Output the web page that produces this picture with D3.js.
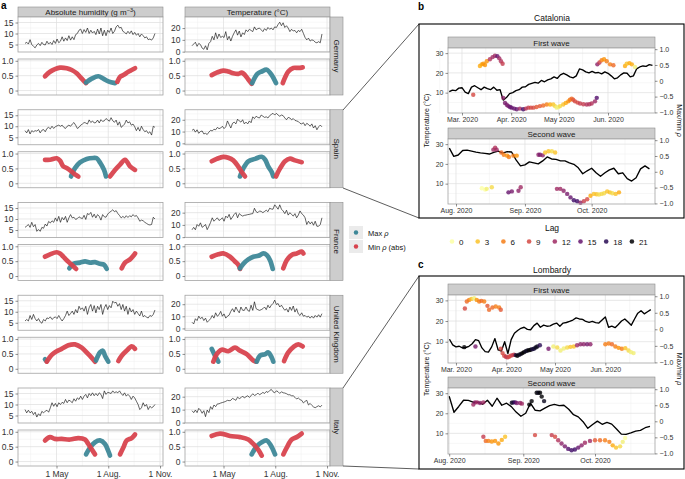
<!DOCTYPE html>
<html><head><meta charset="utf-8">
<script src="https://cdn.jsdelivr.net/npm/d3@7/dist/d3.min.js"></script>
<style>html,body{margin:0;padding:0;background:#fff;}svg{display:block;}</style>
</head><body>
<script>
// ================= DATA =================
const countries = ["Germany", "Spain", "France", "United Kingdom", "Italy"];
const seriesStartDay = 5;   // days after 1 Mar 2020 (6 Mar)
const seriesStepDays = 3;

const humGermany = [5.5,6.0,5.2,7.2,5.0,4.2,3.5,4.8, 5.5,4.5,6.0,5.0,4.8,6.5,5.2,6.0, 5.0,6.8,5.5,7.5,5.8,6.5,8.5,6.5, 8.0,6.8,9.0,7.0,8.5,7.2,9.5,10.0, 11.5,12.0,10.0,11.8,10.5,12.5,10.0,11.5, 10.2,11.0,9.5,12.0,9.8,12.5,9.0,11.5, 9.0,11.5,10.5,12.5,10.0,11.0,13.0,13.8, 12.5,12.8,11.0,10.5,9.8,11.0,10.0,11.2, 9.5,10.5,9.2,10.0,8.5,9.8,9.0,8.0, 8.5,7.2,7.5,7.0,8.0,10.0];
const humSpain = [8,7,8.5,6.5,8,7.5,8,7.8, 8.5,7,8.2,8.5,7.5,9,9.5,8.8, 10,9,9.8,10.2,10.5,10,10.5,9.5, 9,10,10.5,10,11,11.7,10.5,9, 9.5,10.5,11,11.7,11.5,11,12.9,11.7, 12.4,11.5,11.7,12.8,11.5,13,12.2,12.5, 13.5,12.9,12.3,13.9,12.5,11.8,12.8,10.5, 12,9.5,10.2,11,12.8,11.5,12,10.5, 11,9.8,8,9.5,7.8,10,8.5,7.5, 8,6.8,7.5,6,10,9.5];
const humFrance = [6.2,6.8,7.5,6.2,8.5,6.5,7.5,4.4, 5.2,4.4,6.2,5.8,7.7,6.8,8.9,8.2, 9.2,8.5,10.5,9,11.2,8.5,10.7,9.6, 11.2,8.5,10.5,12,10.5,10.8,9.8,10.2, 11,10.5,10.2,11.7,9.8,12.5,12,13, 10.8,12.2,10.5,12,11.2,9.5,12,11, 10.8,12.2,13,13.5,14.2,13.3,13.8,12.5, 11.6,10.5,11.2,10.5,11.5,10.7,11.5,11, 12,11.2,11.6,10.5,9,9.5,9.2,8.5, 8,7.5,7.3,7.5,10.8,10];
const humUK = [5.8,6.5,5.8,8.3,6.5,8.8,6.9,5.8, 6.9,5.4,4.8,6.5,5.8,7.2,6.9,7.7, 6.5,7.2,7.7,6.9,8.3,6.9,5.8,6.9, 8.3,10.3,8.3,9.2,10.3,8.8,11,9.5, 12.5,11,11.8,10.3,12.5,8.8,11.8,13.3, 10.3,12.8,9.5,12.5,11,13.3,8.8,11.8, 13.3,11,12.8,11.8,14.8,14,14.3,12.5, 13.7,11,13.3,10.3,12.5,8.8,11.8,9.9, 11,8.8,10.3,9.2,8.1,10.3,7.7,8.3, 7.5,7.2,8.3,7.9,8.8,10.8];
const humItaly = [7.7,6.2,7.4,6.2,6.9,5.4,6.5,4.3, 5.8,4.9,6.9,6.2,7,7.4,6.5,8.5, 10.8,9.2,10.5,9,10.8,10,11,10.5, 12.3,10.8,12,11.5,10.8,12.6,11.5,13, 12.3,13.8,12.3,13.8,14.6,13,15,14, 15.3,14,15,14,15.3,14.6,12.7,16.2, 14.6,15.5,15.3,15,16.2,15.3,15.8,15.3, 16.2,15,14.1,15.3,13.8,14.6,13.8,12.3, 13.8,13,11.5,10,7.7,8.5,10.8,9.2, 10,7.7,9.2,8.5,9,10];

const tempGermany = [5,6.5,8,4.5,7,6,3,2, 5,1.5,7,8.5,13,10,16,11, 15,12,13,12,17,10,13,9, 13,16,18.5,14,17.5,12.5,16,14.5, 18.5,17,19,18,17,21,18.5,19.5, 20,18.5,17,19.5,18,20.5,19,20, 18.5,21,20.5,23,25,22,24.5,20.5, 22,20,17,19,17.5,18,16,18, 17,19,15.5,12,10,11.5,9,10, 9.5,8,7.5,8.5,7.5,15];
const tempSpain = [11,12,9.5,11.5,8.5,10,10.5,8, 8.5,7.5,9.5,11,10.5,12,11.5,13.5, 12.5,13,14.5,12.5,14,19,16,13, 17,18,16.5,20.5,19,18,20,16.5, 18,16.5,19,17.5,22.5,21,23,22, 21.5,24,23,22,22.5,21.5,23.5,24.5, 25.5,24,25.5,24,23,24,23.5,21.5, 20,22,21.5,20,21,19.5,19,18.5, 17,16.5,17.5,15,17,16,14.5,16.5, 13,15,11.5,14,15.5,14];
const tempFrance = [6,8,6,10.3,8.9,11.7,8,9, 10.3,6.1,8.9,12,15.8,13,14.4,15.8, 13.6,14.5,15.8,13,17.2,15.8,18.6,14.4, 16.4,18.6,20,15.8,19.2,18,17.2,17.8, 18,18.4,18.6,19,19.2,23.6,20.8,20, 21.4,21,20,21,22,20.8,23.6,23, 22.8,26.4,24.7,22.8,26.4,22.8,21.4,19.2, 22,18,20,18.5,17.2,19.2,15.8,18, 21.4,19.2,18,15.8,10.3,13,10.8,12.5, 9.7,13,8.9,8.9,10.3,15.8];
const tempUK = [5.1,3.7,8,6.5,10.1,8,9.3,6.5, 8.5,5.1,6.5,8,10.7,8.5,12.9,10.1, 11.3,14.1,10.1,12,8.5,10.1,11,14.1, 16.3,13.5,17.7,14.9,12.9,17.7,15,14.9, 17.7,14.9,14.1,19.2,14.9,22,16.3,15.5, 14.9,15.5,16.3,17.7,15.5,19.2,16.9,19.2, 20.6,23.4,19.7,20.6,17.7,19.2,16.9,15, 16.3,13.5,17.7,14.9,18.5,13.5,16.3,12, 10.7,12.9,10.1,10.7,9.3,10.1,8.5,10.1, 8.5,10.7,9.3,11.3,9.3,12.2];
const tempItaly = [9.2,7.7,9.7,7.7,11,9.7,7.2,9.2, 4.6,9.7,7.7,12.3,10.3,13.6,12.3,14.4, 14.5,15.1,15.5,15.9,16.4,17.2,16.9,17.2, 18.7,18,17.2,19.7,18.5,19.2,20.5,19, 20,20.7,19.5,20.7,22.3,21,21.5,22.8, 21.5,22.3,23.3,22.5,24,23.3,24.7,25.6, 23.8,23,24.5,23.8,22.5,23.8,23,22.8, 22.3,21.5,21.5,20.7,20.7,19.5,18.2,19, 17.7,17.2,15.2,16.4,17.2,13.6,14.8,13.3, 12.1,11.5,12.3,13,12.1,13.5];

// temperature y-range per country (row)
const tempDomainLow  = [-0.3, -1.2, -0.3, -1.5, -0.3];
const tempDomainHigh = [29.4, 28.5, 28.3, 27.4, 26.7];

// correlation segments: [type, [[day after 1 Mar, rho], ...]]
const rhoHumGermany = [
  ["min", [[40.6,.48],[49.5,.63],[58.3,.72],[67.2,.77],[79.1,.75],[88,.69],[96.9,.58],[105.8,.40],[113.5,.25]]],
  ["max", [[113.5,.27],[123.6,.40],[135.3,.48],[144.2,.40],[153.1,.31],[165,.25]]],
  ["min", [[169.1,.29],[173.9,.46],[179.8,.52],[188.7,.63],[194.7,.69],[200.6,.75]]]];
const rhoTempGermany = [
  ["min", [[40,.52],[48.9,.60],[60.6,.67],[69.5,.64],[78.4,.58],[87.3,.56],[93.4,.60],[99.2,.52],[105.1,.37],[111.1,.23]]],
  ["max", [[112,.25],[121.1,.56],[128.9,.64],[137.8,.70],[146.7,.52],[154.3,.25]]],
  ["min", [[166.3,.25],[170.4,.44],[176.2,.64],[185.1,.76],[194,.76],[201.8,.78]]]];
const rhoHumSpain = [
  ["max", [[86.8,.23],[93.9,.51],[102.8,.70],[114.7,.82],[126.4,.85],[132.5,.84],[138.3,.70],[145.5,.45],[149,.23]]],
  ["min", [[40.6,.79],[49.5,.79],[61.4,.84],[67.2,.76],[73.1,.57],[79.1,.51],[88,.39],[93.9,.30],[99.8,.23]]],
  ["min", [[156.1,.23],[165,.45],[173.9,.63],[182.8,.79],[191.7,.57],[200.6,.45]]]];
const rhoTempSpain = [
  ["max", [[90.3,.23],[96.2,.50],[105.1,.74],[117,.82],[128.9,.89],[134.8,.80],[140.7,.56],[146.7,.38],[149.5,.23]]],
  ["min", [[40,.74],[48.9,.82],[60.6,.89],[69.5,.86],[78.4,.77],[87.3,.56],[93.4,.38],[99.2,.23]]],
  ["min", [[154.3,.23],[161.5,.50],[170.4,.74],[179.2,.83],[188.1,.77],[200,.71]]]];
const rhoHumFrance = [
  ["max", [[83.8,.26],[90.9,.41],[102.8,.45],[111.7,.49],[120.6,.45],[129.4,.47],[138.3,.41],[145.5,.38],[150.3,.24]]],
  ["min", [[40.6,.65],[49.5,.73],[61.4,.80],[67.2,.76],[73.1,.65],[79.1,.53],[88,.38],[95.7,.24]]],
  ["min", [[176.9,.26],[182.8,.45],[191.7,.56],[197.6,.68],[200.6,.76]]]];
const rhoTempFrance = [
  ["min", [[40,.65],[51.8,.73],[60.6,.76],[72.6,.65],[81.4,.49],[87.3,.38],[90.3,.24]]],
  ["max", [[90.3,.26],[96.2,.41],[105.1,.56],[114,.65],[122.9,.68],[131.8,.76],[137.8,.71],[143.7,.53],[148.5,.24]]],
  ["min", [[167.3,.26],[173.4,.53],[182.3,.71],[191.1,.76],[200,.82],[202.9,.76]]]];
const rhoHumUK = [
  ["max", [[40.6,.32],[43.6,.26]]],
  ["min", [[43.6,.24],[52.5,.47],[61.4,.59],[70.2,.67],[82,.79],[93.9,.82],[105.8,.71],[117.5,.49],[129.5,.24]]],
  ["max", [[131.2,.28],[138.3,.55],[143.2,.61],[147.2,.44],[153.1,.24]]],
  ["min", [[170.9,.26],[176.9,.44],[185.8,.61],[194.7,.75],[200.6,.67]]]];
const rhoTempUK = [
  ["max", [[40,.67],[45.9,.44],[51.8,.24]]],
  ["min", [[42.9,.24],[48.9,.49],[57.8,.64],[69.5,.59],[81.4,.71],[90.3,.61],[102.3,.49],[114,.28],[118.8,.24]]],
  ["max", [[120,.24],[125.9,.44],[134.8,.49],[140.7,.55],[146.7,.38],[149.5,.24]]],
  ["min", [[168.6,.26],[176.2,.55],[185.1,.73],[194,.82],[201.8,.75]]]];
const rhoHumItaly = [
  ["max", [[113.5,.24],[120.6,.47],[129.5,.65],[138.3,.71],[147.2,.59],[153.1,.35],[156.1,.20]]],
  ["min", [[40.6,.71],[49.5,.82],[58.3,.76],[70.2,.76],[85,.74],[99.8,.79],[111.7,.74],[117.5,.59],[123.6,.41],[129.5,.24]]],
  ["min", [[173.9,.24],[179.8,.47],[185.8,.71],[194.7,.79],[200.6,.91]]]];
const rhoTempItaly = [
  ["max", [[111.1,.24],[120,.51],[128.9,.65],[137.8,.71],[144.9,.55],[152.6,.24]]],
  ["min", [[40,.86],[54.8,.94],[72.6,.86],[90.3,.82],[105.1,.74],[114,.59],[122.9,.39],[128.9,.20]]],
  ["min", [[167.3,.24],[173.4,.47],[182.3,.74],[191.1,.82],[200,.94]]]];

// ---- Catalonia / Lombardy temperature (every 2 days) ----
const catFirstStart = -8;   // day after 1 Mar
const catFirstTemp = [10.5,11.3,11,12.3,12.5,10.3,9.5,12.8,13.5,12.5,11.5,12.8,12,11.5,12.8,11.2,11.5,6.2,7.5,9.5,10,11,11.5,12.8,13,14.2,14.7,15.2,14.8,16.2,15.5,16.5,17,18,17.2,19,19.8,19,18,17.5,18.5,22,21.5,20.5,20,20.8,20,20.2,19.5,20.5,19.8,18.5,17,17.5,19,20,19.8,18,18.5,22,23,23.5,23.3,24.2,23.8];
const catSecondStart = -3;  // day after 1 Aug
const catSecondTemp = [28,23.8,24.5,26.8,27,26.5,26,25.6,25.3,25,25.8,26.5,25.5,26.2,26,22,19,19.5,21,20.5,20,21.5,23.5,22.5,22.3,21.5,21.5,20.5,19.8,18,15,16.5,17.8,15.5,13.7,15.5,17,17.8,15,15.5,12.5,11.3,13,17.5,19,17.5];
const lomFirstStart = -4;
const lomFirstTemp = [11.2,8.5,7.5,7.8,7,7.2,7.8,9,11,10.5,7,5.2,5,7.5,11.5,6,5.5,10,4.3,11,14.1,15.4,16.5,17,16,15.8,17.8,19,17,18,17.5,17.7,18.5,19,17.5,19,19.3,19.8,20.5,21.5,21,20.8,19.8,19.4,19.8,19.2,19,20.5,22,17,17.5,16.8,18.3,20,21,19.5,18,21,23.8,25,23.5,24.5,25.5];
const lomSecondStart = 0;
const lomSecondTemp = [28.5,20.5,23.4,26.5,26.4,25.5,25.5,24.5,26.5,23.5,27.5,24,25,23.3,20.6,18.5,20,25,21.5,21.2,22.6,23.8,24.4,23.8,24,22,19.3,18.2,15.8,12.5,14.4,16.1,14.5,15.5,14.6,12.2,9.6,9.5,10.2,11.1,11.5,12.8,13.5];

// ---- max/min rho points: [day, rho, lag] ----
const catFirstPts = [[7.1,-.44,9],
 [11.3,.47,4],[12.4,.52,4],[13.4,.54,5],[14.5,.50,5],[15.6,.62,5],[17.6,.68,11],[19.3,.75,12],[20.8,.79,12],[22.3,.78,15],[23.5,.71,12],[24.6,.62,11],[25.6,.54,10],
 [26,-.54,13],[27.1,-.70,14],[28.2,-.76,14],[29.2,-.80,14],[30.3,-.83,15],[31.3,-.85,15],[32.9,-.88,15],[34.5,-.90,15],[36.5,-.88,12],[38.6,-.90,17],[40.2,-.88,11],[41.8,-.85,10],[43.4,-.85,9],[45,-.85,9],[47,-.83,8],[49.1,-.80,8],[51.2,-.78,7],[53.4,-.75,6],[55.5,-.75,4],[57.5,-.75,3],[58.6,-.80,2],[59.7,-.85,1],[60.8,-.83,1],[61.8,-.80,2],[63.8,-.75,3],[65.4,-.70,4],[67,-.65,5],[68,-.60,6],[69.1,-.57,7],[70.1,-.60,8],[71.2,-.65,9],[72.8,-.69,9],[74.4,-.72,10],[76.5,-.74,10],[78.6,-.75,11],[80.2,-.74,11],[81.7,-.72,11],[83.8,-.65,12],[84.9,-.54,16],
 [85.3,.52,13],[86.6,.58,10],[88,.65,6],[89.5,.68,5],[91.2,.62,6],[93.3,.52,6],[95.4,.49,7],
 [102.7,.47,4],[103.8,.54,3],[105.5,.56,4],[107,.52,4],[109,.44,1]];
const catSecondPts = [[16.8,.70,12],[17.6,.76,11],[18.3,.70,12],[20.4,.61,7],[21.5,.54,6],[23,.51,5],[23.8,.47,6],[25.8,.51,6],[27.3,.51,5],
 [37.1,.54,13],[37.8,.54,14],[39,.52,13],[40.1,.61,3],[41.6,.65,3],[43.1,.65,2],[44.6,.61,3],
 [11.6,-.52,0],[13.1,-.56,0],[13.8,-.54,1],[16.1,-.49,2],
 [23.6,-.65,15],[25.1,-.62,14],[28.1,-.60,13],[29.1,-.49,12],
 [45.4,-.54,12],[46.9,-.54,12],[48.4,-.60,13],[50,-.70,14],[51.5,-.81,15],[53,-.90,17],[54.5,-.93,17],[56,-.98,13],[57.5,-.93,10],[59,-.87,9],[60.5,-.76,4],[62,-.70,3],[63.2,-.71,3],[64.3,-.72,2],[65.5,-.70,2],[66.6,-.68,2],[68,-.62,3],[69.2,-.65,3],[70.3,-.68,2],[71.8,-.70,3],[73.3,-.65,4]];
const lomFirstPts = [[5.1,-.54,21],[5.5,.63,9],[6.7,.84,7],[8.1,.89,6],[9.5,.92,3],[11.2,.94,1],[12,-.52,14],[12.8,.89,5],[14.3,.84,6],[15.7,.86,7],[17.4,.84,6],[19.4,.71,8],[20.4,.59,7],[22.5,.66,7],[24.5,.69,6],[26.6,.66,6],[27.6,.59,8],
 [27.6,-.59,9],[28.7,-.72,9],[29.7,-.80,9],[30.7,-.83,10],[31.7,-.85,10],[32.7,-.83,9],[33.7,-.80,9],[34.8,-.78,10],[35.8,-.77,10],[36.8,-.78,19],[37.8,-.80,21],[38.9,-.77,20],[39.9,-.75,20],[40.9,-.72,21],[41.9,-.69,21],[43,-.66,20],[44,-.64,20],[45,-.63,21],[46,-.62,21],[47,-.60,19],[48,-.59,19],[49.1,-.55,20],[50.1,-.52,20],[51.7,-.48,18],
 [57,-.59,14],[60,-.52,1],[62.4,-.55,2],[64.4,-.64,1],[66.4,-.58,1],[68.5,-.55,2],[70.5,-.53,3],[72.6,-.52,3],[74.6,-.48,12],[76.7,-.45,13],[78.7,-.45,13],[80.8,-.45,14],[82.8,-.45,13],
 [92,-.45,6],[94.1,-.43,6],[96.1,-.45,7],[98.2,-.52,6],[100.2,-.56,5],[102.2,-.59,6],[104.3,-.57,3],[106.3,-.64,2],[107.8,-.69,1],[109.4,-.72,1]];
const lomSecondPts = [[10.1,.52,12],[10.8,.59,13],[11.7,.59,12],[12.9,.57,13],[14.3,.59,12],
 [26.2,.58,20],[26.9,.59,19],[27.6,.59,17],[28.3,.57,14],[29.7,.57,13],[30.4,.55,12],
 [33.5,.52,21],[34.5,.63,21],[36.6,.89,21],[37.3,.89,20],[38,.89,21],[38.7,.77,21],[39.7,.63,20],
 [14.3,-.48,10],[15.3,-.61,7],[16.4,-.61,6],[17.8,-.63,5],[19.2,-.61,5],[20.6,-.69,5],[22,-.58,4],[23.4,-.48,3],
 [35.9,-.43,9],
 [42.9,-.43,10],[44.3,-.48,9],[45.6,-.59,11],[47,-.69,13],[48.4,-.78,14],[49.8,-.86,16],[51.2,-.90,17],[52.6,-.88,17],[54,-.82,15],[55.4,-.75,13],[56.8,-.67,12],[58.9,-.61,12],[61,-.59,8],[63.1,-.59,7],[65.2,-.59,6],[67,-.64,6],[68.4,-.75,4],[69.8,-.82,3],[71.5,-.78,2],[72.6,-.64,1],[73.6,-.52,0]];

const lagLevels = [0, 3, 6, 9, 12, 15, 18, 21];
const aTickLabels = ["1 May", "1 Aug.", "1 Nov."];
const firstTickLabels = ["Mar. 2020", "Apr. 2020", "May 2020", "Jun. 2020"];
const secondTickLabels = ["Aug. 2020", "Sep. 2020", "Oct. 2020"];

// ================= DRAWING =================
const FONT = '"Liberation Sans", Arial, Helvetica, sans-serif';
const TXT = "#333", GRID = "#dedede", GRIDm = "#efefef", BORDER = "#a3a3a3",
      STRIP = "#cdcdcd", STRIPB = "#8c8c8c", RED = "#d8434e", TEAL = "#3e8898";
const MS = 864e5, MAR1 = Date.UTC(2020, 2, 1), AUG1 = Date.UTC(2020, 7, 1);
const dt = (base, d) => new Date(base + d * MS);
const lagColor = l => d3.interpolateInferno(1 - l / 21);

const svg = d3.select("body").append("svg").attr("width", 685).attr("height", 479)
  .attr("font-family", FONT);

function styleAxis(g, fs) {
  g.attr("font-family", FONT).attr("font-size", fs);
  g.select(".domain").remove();
  g.selectAll(".tick line").attr("stroke", "#444").attr("stroke-width", 0.6);
  g.selectAll(".tick text").attr("fill", TXT);
}
function gridLines(g, x, y, xMaj, xMin, yMaj, yMin) {
  const [xa, xb] = x.range(), [ya, yb] = y.range();
  const add = (vals, isX, col, w) => vals.forEach(v => {
    const p = isX ? x(v) : y(v);
    g.append("line").attr("x1", isX ? p : xa).attr("x2", isX ? p : xb)
      .attr("y1", isX ? ya : p).attr("y2", isX ? yb : p)
      .attr("stroke", col).attr("stroke-width", w);
  });
  add(xMin, true, GRIDm, 0.5); add(yMin, false, GRIDm, 0.5);
  add(xMaj, true, GRID, 0.7); add(yMaj, false, GRID, 0.7);
}
function strip(g, x, y, w, h, label, rotate) {
  g.append("rect").attr("x", x).attr("y", y).attr("width", w).attr("height", h)
    .attr("fill", STRIP).attr("stroke", STRIPB).attr("stroke-width", 0.6);
  const t = g.append("text").attr("fill", "#1a1a1a").attr("text-anchor", "middle");
  if (rotate) t.attr("transform", `translate(${x + w / 2 - 2.8},${y + h / 2}) rotate(90)`).attr("font-size", 8);
  else t.attr("x", x + w / 2).attr("y", y + h / 2 + 3).attr("font-size", 8);
  return t.text(label);
}

// ---------- panel a ----------
const humSeries = [humGermany, humSpain, humFrance, humUK, humItaly];
const tempSeries = [tempGermany, tempSpain, tempFrance, tempUK, tempItaly];
const rhoHum = [rhoHumGermany, rhoHumSpain, rhoHumFrance, rhoHumUK, rhoHumItaly];
const rhoTemp = [rhoTempGermany, rhoTempSpain, rhoTempFrance, rhoTempUK, rhoTempItaly];
const colX = [18, 185], plotW = 145, rowTop0 = 17, rowPitch = 92.75, tsH = 35, corrOff = 42, corrH = 36;
const xDomA = [dt(MAR1, -7.45), dt(MAR1, 250.3)];
const aMajor = [61, 153, 245].map(d => dt(MAR1, d));
const aMinor = [15, 107, 199].map(d => dt(MAR1, d));

const gA = svg.append("g");
strip(gA, colX[0], 7, plotW, 10, "").text(null)
  .call(t => { t.append("tspan").text("Absolute humidity (g m"); t.append("tspan").attr("font-size", 5.5).attr("dy", -3).text("−3"); t.append("tspan").attr("dy", 3).text(")"); });
strip(gA, colX[1], 7, plotW, 10, "Temperature (°C)");

countries.forEach((cn, k) => {
  const top = rowTop0 + k * rowPitch;
  [0, 1].forEach(c => {
    const x0 = colX[c];
    const x = d3.scaleUtc().domain(xDomA).range([x0, x0 + plotW]);
    const vals = c === 0 ? humSeries[k] : tempSeries[k];
    const y = d3.scaleLinear().domain(c === 0 ? [1.6, 17.5] : [tempDomainLow[k], tempDomainHigh[k]]).range([top + tsH, top]);
    const g1 = gA.append("g");
    g1.append("rect").attr("x", x0).attr("y", top).attr("width", plotW).attr("height", tsH).attr("fill", "#fff");
    const yMaj = c === 0 ? [5, 10, 15] : [0, 10, 20];
    const yMin = c === 0 ? [7.5, 12.5] : [5, 15, 25];
    gridLines(g1, x, y, aMajor.filter(d => x(d) <= x0 + plotW), aMinor, yMaj.filter(v => y(v) <= top + tsH + 0.1), yMin);
    const pts = vals.map((v, i) => [dt(MAR1, seriesStartDay + i * seriesStepDays), v]);
    g1.append("path").attr("d", d3.line().x(p => x(p[0])).y(p => y(p[1]))(pts))
      .attr("fill", "none").attr("stroke", "#111").attr("stroke-width", 0.65).attr("stroke-linejoin", "round");
    g1.append("rect").attr("x", x0).attr("y", top).attr("width", plotW).attr("height", tsH)
      .attr("fill", "none").attr("stroke", BORDER).attr("stroke-width", 0.8);
    g1.append("g").attr("transform", `translate(${x0},0)`)
      .call(d3.axisLeft(y).tickValues(yMaj.filter(v => y(v) <= top + tsH + 0.1)).tickSize(2.5).tickPadding(2).tickFormat(d3.format("d")))
      .call(a => styleAxis(a, 8.5));

    const cTop = top + corrOff;
    const yc = d3.scaleLinear().domain([-0.15, 1.06]).range([cTop + corrH, cTop]);
    const g2 = gA.append("g");
    g2.append("rect").attr("x", x0).attr("y", cTop).attr("width", plotW).attr("height", corrH).attr("fill", "#fff");
    gridLines(g2, x, yc, aMajor.filter(d => x(d) <= x0 + plotW), aMinor, [0, 0.5, 1], [0.25, 0.75]);
    const segs = c === 0 ? rhoHum[k] : rhoTemp[k];
    segs.forEach(([type, p]) => {
      g2.append("path").attr("d", d3.line().curve(d3.curveCatmullRom).x(q => x(dt(MAR1, q[0]))).y(q => yc(q[1]))(p))
        .attr("fill", "none").attr("stroke", type === "max" ? TEAL : RED).attr("stroke-width", 4.7)
        .attr("stroke-linecap", "round").attr("stroke-linejoin", "round").attr("opacity", 0.95);
    });
    g2.append("rect").attr("x", x0).attr("y", cTop).attr("width", plotW).attr("height", corrH)
      .attr("fill", "none").attr("stroke", BORDER).attr("stroke-width", 0.8);
    g2.append("g").attr("transform", `translate(${x0},0)`)
      .call(d3.axisLeft(yc).tickValues([0, 0.5, 1]).tickSize(2.5).tickPadding(2).tickFormat(v => v === 0 ? "0" : d3.format(".1f")(v)))
      .call(a => styleAxis(a, 8.5));
    if (k === countries.length - 1) {
      g2.append("g").attr("transform", `translate(0,${cTop + corrH})`)
        .call(d3.axisBottom(x).tickValues(aMajor).tickSize(2.5).tickPadding(2).tickFormat((d, i) => aTickLabels[i]))
        .call(a => styleAxis(a, 8.5));
    }
  });
  strip(gA, 330, top, 13, corrOff + corrH, cn, true);
});

svg.append("text").attr("x", 1).attr("y", 9).attr("font-weight", "bold").attr("font-size", 10).text("a");
svg.append("text").attr("x", 418).attr("y", 10).attr("font-weight", "bold").attr("font-size", 10).text("b");
svg.append("text").attr("x", 418).attr("y", 268).attr("font-weight", "bold").attr("font-size", 10).text("c");

const conn = [[343, 110, 419, 24], [343, 188, 419, 218], [343, 388, 419, 276], [343, 466, 419, 469]];
conn.forEach(([a, b, c, d]) => svg.append("line").attr("x1", a).attr("y1", b).attr("x2", c).attr("y2", d)
  .attr("stroke", "#333").attr("stroke-width", 0.8));

// ---------- panels b, c ----------
const TDOM = [-0.3, 32.6];
function wave(o) {
  const g = svg.append("g");
  const x = d3.scaleUtc().domain([dt(o.base, o.dom[0]), dt(o.base, o.dom[1])]).range([448, 655]);
  const y = d3.scaleLinear().domain(TDOM).range([o.y1, o.y0]);
  const r = d3.scaleLinear().domain(TDOM.map(t => t / 16 - 1)).range([o.y1, o.y0]);
  strip(g, 448, o.sy, 207, o.y0 - o.sy, o.label);
  g.append("rect").attr("x", 448).attr("y", o.y0).attr("width", 207).attr("height", o.y1 - o.y0).attr("fill", "#fff");
  const maj = o.ticks.map(d => dt(o.base, d)), mn = o.minor.map(d => dt(o.base, d));
  gridLines(g, x, y, maj, mn, [10, 20, 30], [5, 15, 25]);
  const line = o.temps.map((v, i) => [dt(o.base, o.tStart + 2 * i), v]);
  g.append("path").attr("d", d3.line().x(p => x(p[0])).y(p => y(p[1]))(line))
    .attr("fill", "none").attr("stroke", "#000").attr("stroke-width", 1.35).attr("stroke-linejoin", "round");
  g.selectAll("circle.pt").data(o.pts).join("circle").attr("class", "pt")
    .attr("cx", p => x(dt(o.base, p[0]))).attr("cy", p => r(p[1])).attr("r", 2.2)
    .attr("fill", p => lagColor(p[2])).attr("opacity", 0.8);
  g.append("rect").attr("x", 448).attr("y", o.y0).attr("width", 207).attr("height", o.y1 - o.y0)
    .attr("fill", "none").attr("stroke", BORDER).attr("stroke-width", 0.8);
  g.append("g").attr("transform", "translate(448,0)")
    .call(d3.axisLeft(y).tickValues([10, 20, 30]).tickSize(2.5).tickPadding(2)).call(a => styleAxis(a, 7));
  g.append("g").attr("transform", "translate(655,0)")
    .call(d3.axisRight(r).tickValues([-1, -0.5, 0, 0.5, 1]).tickSize(2.5).tickPadding(2)
      .tickFormat(v => v === 0 ? "0" : d3.format(".1f")(v).replace("-", "−"))).call(a => styleAxis(a, 7));
  g.append("g").attr("transform", `translate(0,${o.y1})`)
    .call(d3.axisBottom(x).tickValues(maj).tickSize(2.5).tickPadding(1.5).tickFormat((d, i) => o.tickLabels[i]))
    .call(a => styleAxis(a, 7));
}
function region(title, top, bottom, first, second) {
  svg.append("rect").attr("x", 419).attr("y", top).attr("width", 265).attr("height", bottom - top)
    .attr("fill", "none").attr("stroke", "#000").attr("stroke-width", 1.1);
  svg.append("text").attr("x", 552).attr("y", top - 3.5).attr("text-anchor", "middle").attr("font-size", 8.5).attr("fill", "#111").text(title);
  wave(first); wave(second);
  const cy = (first.sy + second.y1) / 2;
  svg.append("text").attr("transform", `translate(429,${cy}) rotate(-90)`).attr("text-anchor", "middle")
    .attr("font-size", 7).attr("fill", "#111").text("Temperature (°C)");
  const t = svg.append("text").attr("transform", `translate(677,${cy}) rotate(90)`).attr("text-anchor", "middle")
    .attr("font-size", 7).attr("fill", "#111");
  t.append("tspan").text("Max/min ");
  t.append("tspan").attr("font-style", "italic").text("ρ");
}
region("Catalonia", 24, 218,
  { label: "First wave", sy: 37, y0: 48, y1: 113, base: MAR1, dom: [-8.8, 121.6], ticks: [0, 31, 61, 92], minor: [-14, 15, 46, 76, 107], tickLabels: firstTickLabels, temps: catFirstTemp, tStart: catFirstStart, pts: catFirstPts },
  { label: "Second wave", sy: 128, y0: 139, y1: 204, base: AUG1, dom: [-3.6, 89.5], ticks: [0, 31, 61], minor: [15, 46, 76], tickLabels: secondTickLabels, temps: catSecondTemp, tStart: catSecondStart, pts: catSecondPts });
region("Lombardy", 276, 469,
  { label: "First wave", sy: 284, y0: 295, y1: 363, base: MAR1, dom: [-4.9, 122.6], ticks: [0, 31, 61, 92], minor: [15, 46, 76, 107], tickLabels: firstTickLabels, temps: lomFirstTemp, tStart: lomFirstStart, pts: lomFirstPts },
  { label: "Second wave", sy: 377, y0: 388, y1: 454, base: AUG1, dom: [-0.5, 86.1], ticks: [0, 31, 61], minor: [15, 46, 76], tickLabels: secondTickLabels, temps: lomSecondTemp, tStart: lomSecondStart, pts: lomSecondPts });

// ---------- legends ----------
const lg = svg.append("g");
[["Max ", TEAL, 226], ["Min ", RED, 240]].forEach(([lab, col, yy], i) => {
  lg.append("rect").attr("x", 349).attr("y", yy).attr("width", 14).attr("height", 13).attr("fill", "#ebebeb");
  lg.append("circle").attr("cx", 356).attr("cy", yy + 6.5).attr("r", 2.2).attr("fill", col);
  const t = lg.append("text").attr("x", 368).attr("y", yy + 9.5).attr("font-size", 7.5).attr("fill", "#111");
  t.append("tspan").text(lab);
  t.append("tspan").attr("font-style", "italic").text("ρ");
  if (i === 1) t.append("tspan").text(" (abs)");
});
lg.append("text").attr("x", 552).attr("y", 230.5).attr("text-anchor", "middle").attr("font-size", 8.5).attr("fill", "#111").text("Lag");
lagLevels.forEach((l, i) => {
  const cx = 452 + i * 25.7;
  lg.append("circle").attr("cx", cx).attr("cy", 241.5).attr("r", 2.3).attr("fill", lagColor(l)).attr("opacity", 0.85);
  lg.append("text").attr("x", cx + 7).attr("y", 244.5).attr("font-size", 8).attr("fill", "#111").text(l);
});
</script>
</body></html>
